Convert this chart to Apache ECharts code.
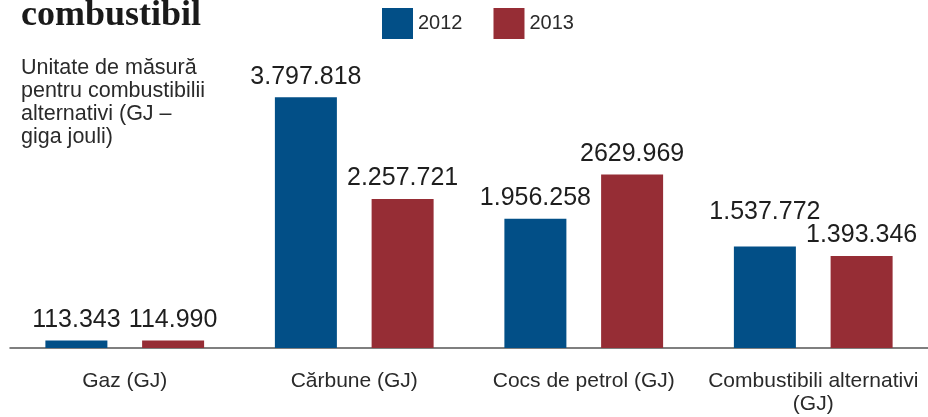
<!DOCTYPE html>
<html>
<head>
<meta charset="utf-8">
<script src="https://cdn.jsdelivr.net/npm/echarts@6/dist/echarts.min.js"></script>
<style>
  html, body { margin: 0; padding: 0; background: #fff; }
  #mychart { width: 928px; height: 417px; }
</style>
</head>
<body>
<div id="mychart"></div>
<script>
// categorii si valori (GJ)
const categories = ['Gaz (GJ)', 'Cărbune (GJ)', 'Cocs de petrol (GJ)', 'Combustibili alternativi\n(GJ)']
const values2012 = [113343, 3797818, 1956258, 1537772]
const values2013 = [114990, 2257721, 2629969, 1393346]
// etichetele asa cum apar in grafic
const labels2012 = ['113.343', '3.797.818', '1.956.258', '1.537.772']
const labels2013 = ['114.990', '2.257.721', '2629.969', '1.393.346']

const valueLabel = function(arr) {
  return {
    show: true,
    position: 'top',
    distance: 8,
    fontFamily: 'Liberation Sans',
    fontSize: 25,
    color: '#1e1e1e',
    formatter: function(p) { return arr[p.dataIndex] }
  }
}

// eticheta 1.537.772 e ridicata in original ca sa nu se suprapuna
const data2012 = values2012.map(function(v, i) {
  return i === 3 ? { value: v, label: { distance: 22 } } : v
})

const option = {
  animation: false,
  title: {
    text: 'combustibil',
    left: 16,
    top: -7,
    textStyle: {
      fontFamily: 'Liberation Serif',
      fontWeight: 'bold',
      fontSize: 36,
      color: '#1a1a1a'
    }
  },
  legend: {
    left: 377,
    top: 3,
    itemWidth: 31,
    itemHeight: 31,
    itemGap: 31,
    icon: 'rect',
    textStyle: {
      fontFamily: 'Liberation Sans',
      fontSize: 20,
      color: '#2a2a2a'
    },
    data: ['2012', '2013']
  },
  graphic: [
    {
      type: 'text',
      left: 21,
      top: 56,
      style: {
        text: 'Unitate de măsură\npentru combustibilii\nalternativi (GJ –\ngiga jouli)',
        fontFamily: 'Liberation Sans',
        fontSize: 21.5,
        lineHeight: 23.3,
        fill: '#2a2a2a'
      }
    }
  ],
  grid: {
    left: 10,
    right: 0,
    top: 48,
    bottom: 69,
    containLabel: false
  },
  xAxis: {
    type: 'category',
    data: categories,
    axisLine: { lineStyle: { color: '#555', width: 1.5 } },
    axisTick: { show: false },
    axisLabel: {
      margin: 22,
      fontFamily: 'Liberation Sans',
      fontSize: 21,
      lineHeight: 23,
      color: '#2a2a2a',
      interval: 0
    }
  },
  yAxis: {
    type: 'value',
    min: 0,
    max: 4545000,
    show: false,
    splitLine: { show: false }
  },
  series: [
    {
      name: '2012',
      type: 'bar',
      barWidth: 62,
      barGap: '56%',
      itemStyle: { color: '#024f87' },
      label: valueLabel(labels2012),
      data: data2012
    },
    {
      name: '2013',
      type: 'bar',
      barWidth: 62,
      itemStyle: { color: '#962d35' },
      label: valueLabel(labels2013),
      data: values2013
    }
  ]
}

const myChart = echarts.init(document.getElementById('mychart'))
myChart.setOption(option)
</script>
</body>
</html>
